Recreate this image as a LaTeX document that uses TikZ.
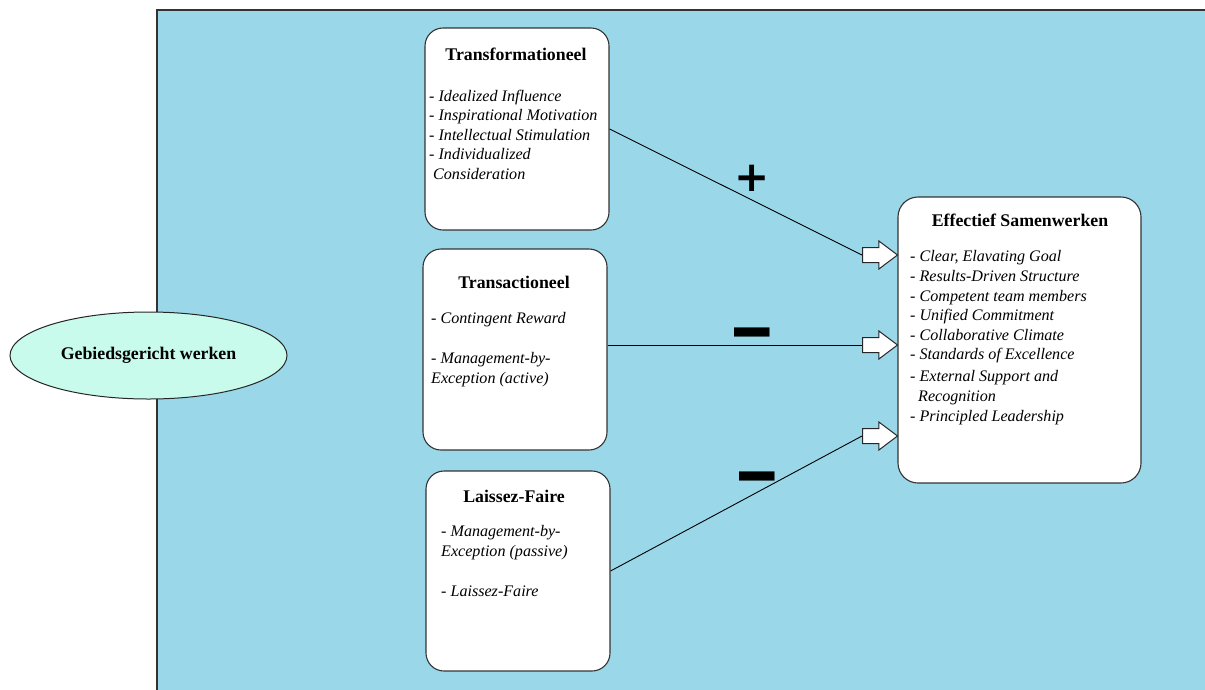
\documentclass[tikz,border=0pt]{standalone}
\usepackage{fontspec}
\setmainfont{Liberation Serif}
\newfontfamily\symfont{DejaVu Sans}
\usetikzlibrary{shapes.geometric,shapes.arrows}
\definecolor{panelblue}{RGB}{154,216,233}
\definecolor{mint}{RGB}{200,251,236}
\begin{document}
\begin{tikzpicture}[x=1pt,y=-1pt,
  box/.style={draw=black!80, line width=1.1pt, fill=white, rounded corners=18pt, inner sep=0pt},
  ttl/.style={font=\bfseries\fontsize{17.8}{20}\selectfont, inner sep=0pt, anchor=center},
  itm/.style={font=\itshape\fontsize{16.1}{19.6}\selectfont, align=left, inner sep=0pt, anchor=north west},
  itmw/.style={itm, font=\itshape\fontsize{16.1}{20}\selectfont},
  conn/.style={draw=black, line width=0.9pt},
  barrow/.style={single arrow, draw=black!85, fill=white, line width=1pt,
    minimum height=35pt, minimum width=27pt, single arrow head extend=6.5pt,
    single arrow tip angle=74, inner sep=0pt, text height=7pt, text depth=7pt,
    text width=0pt, anchor=tail},
  sign/.style={font=\symfont\bfseries\fontsize{42}{42}\selectfont, inner sep=0pt}]
\useasboundingbox (0,0) rectangle (1205,689);
% panel
\fill[panelblue] (157,10) rectangle (1206,690);
\draw[line width=1.6pt, black!80] (157,690) -- (157,10) -- (1206,10);
% ellipse
\node[ellipse, draw=black!85, line width=1pt, fill=mint, minimum width=277pt, minimum height=87pt,
  font=\bfseries\fontsize{17.8}{20}\selectfont] (gw) at (148.5,355.5) {Gebiedsgericht werken};
% boxes
\node[box, minimum width=184pt, minimum height=202pt] (tf) at (517,129) {};
\node[box, minimum width=184pt, minimum height=201pt] (ta) at (515,349.5) {};
\node[box, minimum width=184pt, minimum height=200pt] (lf) at (518,571) {};
\node[box, minimum width=243pt, minimum height=286pt, rounded corners=20pt] (es) at (1019.5,340) {};
% box texts
\node[ttl] (tf-t) at (516,54) {Transformationeel};
\node[itm] (tf-i) at (429,89.5) {- Idealized Influence\\- Inspirational Motivation\\- Intellectual Stimulation\\- Individualized\\\hspace*{4pt}Consideration};
\node[ttl] (ta-t) at (514,282) {Transactioneel};
\node[itmw] (ta-i) at (431,312.5) {- Contingent Reward\\[20pt]- Management-by-\\Exception (active)};
\node[ttl] (lf-t) at (514,496) {Laissez-Faire};
\node[itmw] (lf-i) at (441,525.5) {- Management-by-\\Exception (passive)\\[20pt]- Laissez-Faire};
\node[ttl] (es-t) at (1020,220) {Effectief Samenwerken};
\node[itm] (es-i) at (910,250.5) {- Clear, Elavating Goal\\- Results-Driven Structure\\- Competent team members\\- Unified Commitment\\- Collaborative Climate\\- Standards of Excellence\\[2pt]- External Support and\\\hspace*{8pt}Recognition\\[1pt]- Principled Leadership};
% block arrows
\node[barrow] (a1) at (862,255) {};
\node[barrow] (a2) at (862,345) {};
\node[barrow] (a3) at (862,436) {};
% connectors
\draw[conn] (tf.east) -- (a1.tail);
\draw[conn] (ta.east |- a2.tail) -- (a2.tail);
\draw[conn] (lf.east) -- (a3.tail);
% signs
\node[sign] (s1) at (752,178) {+};
\node[sign] (s2) at (752.5,343) {\scalebox{1.35}[1.9]{−}};
\node[sign] (s3) at (757,487) {\scalebox{1.35}[1.9]{−}};
\end{tikzpicture}
\end{document}
